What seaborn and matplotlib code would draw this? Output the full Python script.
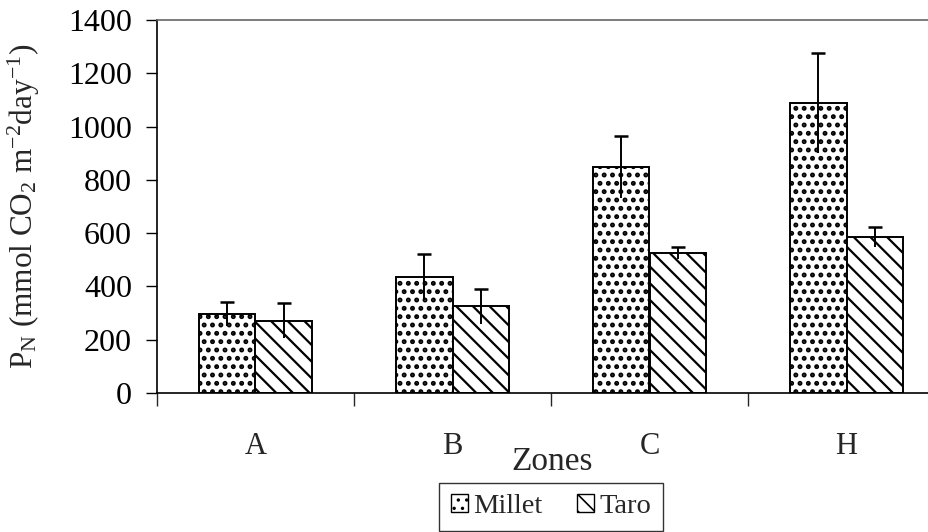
import matplotlib
matplotlib.use("Agg")
import matplotlib.pyplot as plt
import seaborn as sns
import pandas as pd
import numpy as np
from matplotlib.patches import Patch

zones = ["A", "B", "C", "H"]
series = ["Millet", "Taro"]
millet = [295, 436, 848, 1088]
taro = [272, 325, 525, 586]
millet_err = [45, 86, 117, 188]
taro_err = [64, 67, 23, 37]
yticks = [0, 200, 400, 600, 800, 1000, 1200, 1400]

sns.set_theme(style="white")
plt.rcParams["font.family"] = ["Liberation Serif", "DejaVu Serif"]
plt.rcParams["mathtext.fontset"] = "custom"
plt.rcParams["mathtext.rm"] = "Liberation Serif"
plt.rcParams["mathtext.it"] = "Liberation Serif:italic"
plt.rcParams["hatch.linewidth"] = 2.3

df = pd.DataFrame({
    "Zone": zones * 2,
    "Series": ["Millet"] * 4 + ["Taro"] * 4,
    "Value": millet + taro,
})

W, H = 929, 532
fig = plt.figure(figsize=(W / 100, H / 100), dpi=100)
ax = fig.add_axes([157 / W, (H - 393) / H, (945 - 157) / W, 373 / H])

sns.barplot(data=df, x="Zone", y="Value", hue="Series", order=zones,
            hue_order=series, palette=["white", "white"], edgecolor="black",
            linewidth=1.4, width=0.57, errorbar=None, legend=False, ax=ax)

hatches = {"Millet": "..", "Taro": "\\\\"}
hatch_lw = {"Millet": 2.3, "Taro": 1.6}
errs = {"Millet": millet_err, "Taro": taro_err}
vals = {"Millet": millet, "Taro": taro}


def style_patch(p, s):
    p.set_hatch(hatches[s])
    p.set_edgecolor("black")
    if hasattr(p, "set_hatch_linewidth"):
        p.set_hatch_linewidth(hatch_lw[s])


for s, cont in zip(series, ax.containers):
    xs = []
    for bar in cont.patches:
        style_patch(bar, s)
        xs.append(bar.get_x() + bar.get_width() / 2)
    xs = np.array(xs)
    v = np.array(vals[s])
    e = np.array(errs[s])
    ax.vlines(xs, v - e, v + e, color="black", lw=1.4, zorder=5)
    ax.plot(xs, v + e, ls="none", marker="_", ms=10, mew=1.8, color="black", zorder=5)

ax.set_xlim(-0.5, 3.5)
ax.set_ylim(0, 1400)
ax.set_yticks(yticks)
ax.set_yticklabels([str(t) for t in yticks], fontsize=23)
ax.tick_params(axis="y", direction="out", length=8, width=1, left=True, pad=10, colors="black")
ax.set_xticks(range(4))
ax.set_xticklabels(zones, fontsize=22)
ax.tick_params(axis="x", which="major", length=0, pad=28)
ax.set_xticks([-0.5, 0.5, 1.5, 2.5], minor=True)
ax.tick_params(axis="x", which="minor", direction="out", length=9, width=1, bottom=True)
for sp in ["left", "bottom"]:
    ax.spines[sp].set_color("black")
    ax.spines[sp].set_linewidth(1.2)
ax.spines["top"].set_color("#666666")
ax.spines["top"].set_linewidth(1.2)
ax.spines["right"].set_visible(False)

ax.set_xlabel("Zones", fontsize=24)
ax.xaxis.set_label_coords((552 - 157) / (945 - 157), -(462 - 393) / 373)
ax.xaxis.label.set_va("center")
ax.set_ylabel(r"P$_\mathrm{N}$ (mmol CO$_2$ m$^{-2}$day$^{-1}$)", fontsize=22.5)
ax.yaxis.set_label_coords(-(157 - 24) / (945 - 157), 0.5)
ax.yaxis.label.set_va("center")

handles = []
for s in series:
    p = Patch(facecolor="white", edgecolor="black", hatch=hatches[s], label=s)
    handles.append(p)
leg = fig.legend(handles=handles, loc="upper center", bbox_to_anchor=(551 / W, (H - 483) / H),
                 ncol=2, frameon=True, fancybox=False, edgecolor="black", fontsize=20.5,
                 handlelength=0.6, handleheight=0.6, handletextpad=0.2, columnspacing=1.2,
                 borderpad=0.4, borderaxespad=0)
for h, s in zip(leg.legend_handles, series):
    if hasattr(h, "set_hatch_linewidth"):
        h.set_hatch_linewidth(1.2)

fig.savefig("out.png", dpi=100)
